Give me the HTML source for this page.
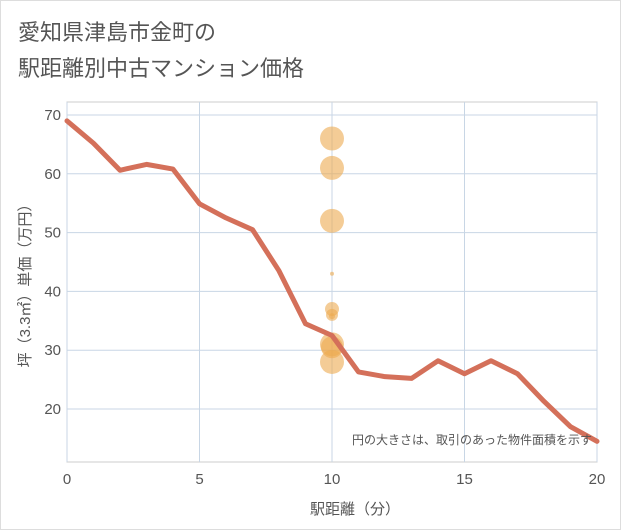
<!DOCTYPE html>
<html><head><meta charset="utf-8"><style>
body{margin:0;background:#fff;}
svg{display:block;font-family:"Liberation Sans","Noto Sans CJK JP",sans-serif;}
</style></head><body>
<svg id="c" width="621" height="530">
<rect x="0.5" y="0.5" width="620" height="529" fill="#fff" stroke="#ddd"/>
<text x="18" y="40" font-size="22" fill="#555">愛知県津島市金町の</text>
<text x="18" y="76" font-size="22" fill="#555">駅距離別中古マンション価格</text>
<g id="grid"></g>
<g id="bubbles"></g>
<g id="line"></g>
<g id="axes"></g>
<text x="592" y="444" font-size="12" fill="#555" text-anchor="end">円の大きさは、取引のあった物件面積を示す</text>
<text x="355" y="514" font-size="15" fill="#555" text-anchor="middle">駅距離（分）</text>
<text transform="translate(30,282) rotate(-90)" font-size="15" fill="#555" text-anchor="middle">坪（3.3㎡）単価（万円）</text>
</svg>
<script>
const xTicks=[0,5,10,15,20];
const yTicks=[20,30,40,50,60,70];
const lineX=[0,1,2,3,4,5,6,7,8,9,10,11,12,13,14,15,16,17,18,19,20];
const lineY=[69,65.2,60.6,61.6,60.8,54.9,52.5,50.5,43.5,34.5,32.5,26.3,25.5,25.2,28.2,26,28.2,26,21.3,17,14.5];
const bubbleX=[10,10,10,10,10,10,10,10,10,10];
const bubbleY=[66,61,52,43,37,36,35.8,31,30.5,28];
const bubbleR=[12,12,12,2,7,6,3,12,11,12];
const L=67,R=597,T=102,B=462;
const xs=v=>L+(v-0)/20*(R-L);
const ys=v=>409-(v-20)*(294/50);
const NS="http://www.w3.org/2000/svg";
function mk(p,t,a){const e=document.createElementNS(NS,t);for(const k in a)e.setAttribute(k,a[k]);document.getElementById(p).appendChild(e);return e;}
let bg=mk('grid','rect',{x:L,y:T,width:R-L,height:B-T,fill:'#fff',stroke:'#ccc'});


xTicks.forEach(v=>{
 const g=mk('grid','line',{x1:xs(v),x2:xs(v),y1:T,y2:B,stroke:'#c8d6e5'});
 
 
 const t=mk('axes','text',{x:xs(v),y:B+22,'font-size':15,fill:'#555','text-anchor':'middle'});
 t.textContent=v;
 
 
});
yTicks.forEach(v=>{
 const g=mk('grid','line',{x1:L,x2:R,y1:ys(v),y2:ys(v),stroke:'#c8d6e5'});
 
 
 const t=mk('axes','text',{x:L-6,y:ys(v)+5,'font-size':15,fill:'#555','text-anchor':'end'});
 t.textContent=v;
 
 
});
bubbleX.forEach((v,i)=>{
 const c=mk('bubbles','circle',{cx:xs(v),cy:ys(bubbleY[i]),r:bubbleR[i],fill:'rgba(237,170,80,0.6)'});
 
 
});
const pl=mk('line','polyline',{points:lineX.map((v,i)=>xs(v)+','+ys(lineY[i])).join(' '),fill:'none',stroke:'#d4705a','stroke-width':5,'stroke-linejoin':'round','stroke-linecap':'round'});


</script>
</body></html>
